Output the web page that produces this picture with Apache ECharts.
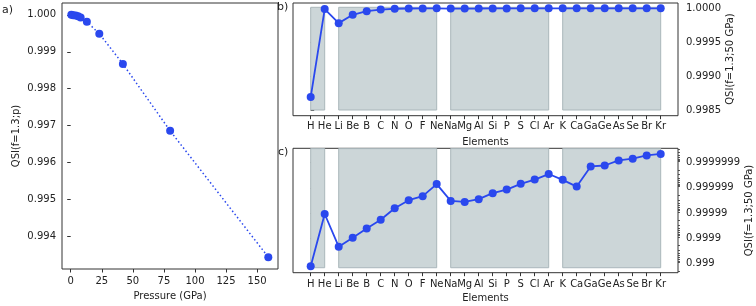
<!DOCTYPE html>
<html>
<head>
<meta charset="utf-8">
<script src="https://cdn.jsdelivr.net/npm/echarts@6/dist/echarts.min.js"></script>
<style>
html,body{margin:0;padding:0;background:#fff;}
#chart{width:756px;height:306px;}
</style>
</head>
<body>
<div id="chart"></div>
<script>
// ---- data ----
const pressureGPa = [0.5, 2, 4, 6, 8, 13, 23, 42, 80, 159];
const qsiPressure = [1.00000, 0.99999, 0.99998, 0.99996, 0.99993, 0.99981, 0.99949, 0.99867, 0.99686, 0.99344];
const pressureTicks = [0, 25, 50, 75, 100, 125, 150];
const qsiPressureTicks = [0.994, 0.995, 0.996, 0.997, 0.998, 0.999, 1.000];

const elements = ['H','He','Li','Be','B','C','N','O','F','Ne','Na','Mg','Al','Si','P','S','Cl','Ar','K','Ca','Ga','Ge','As','Se','Br','Kr'];
const qsi50 = [0.99869, 0.99998904, 0.9997812, 0.9999045, 0.9999583, 0.9999814, 0.99999354, 0.99999691, 0.99999786, 0.999999292,
               0.99999669, 0.99999637, 0.99999718, 0.99999838, 0.999998825, 0.999999308, 0.999999532, 0.999999718,
               0.999999521, 0.999999109, 0.999999859, 0.999999871, 0.9999999187, 0.9999999308, 0.9999999487, 0.9999999553];
const periodBands = [[0, 1], [2, 9], [10, 17], [18, 25]];
const linTicks = [0.9985, 0.9990, 0.9995, 1.0000];
const linTickLabels = ['0.9985', '0.9990', '0.9995', '1.0000'];
const logTicks = [1e-3, 1e-4, 1e-5, 1e-6, 1e-7];           // 1 - QSI
const logTickLabels = ['0.999', '0.9999', '0.99999', '0.999999', '0.9999999'];

// ---- styling ----
const FONT = 'DejaVu Sans';
const BLUE = '#2a48ee';
const AXC = '#333';
const TXT = '#222';
const BAND = '#ccd6d8';
const BAND_EDGE = '#aab7bb';

const logMinorTicks = [];
for (let k = 3; k <= 8; k++) {
  for (let m = 2; m <= 9; m++) logMinorTicks.push(m * Math.pow(10, -k));
}

const elementIdx = elements.map((e, i) => i);

function gridBox(left, top, width, height) {
  return { left, top, width, height, show: true, borderColor: AXC, borderWidth: 1, backgroundColor: 'transparent', containLabel: false };
}
const tickStyle = { show: true, length: 3.5, lineStyle: { color: AXC, width: 1 } };
const labelStyle = { color: TXT, fontFamily: FONT, fontSize: 10 };
const nameStyle = { color: TXT, fontFamily: FONT, fontSize: 10 };

const elementXAxis = (gridIndex, margin, gap) => ({
  type: 'value', gridIndex, min: -1.264, max: 26.236,
  splitLine: { show: false }, axisLine: { show: false },
  axisTick: Object.assign({}, tickStyle, { customValues: elementIdx }),
  axisLabel: Object.assign({}, labelStyle, { margin, customValues: elementIdx, formatter: v => elements[Math.round(v)] }),
  name: 'Elements', nameLocation: 'middle', nameGap: gap, nameTextStyle: nameStyle
});

const bandAreasLin = periodBands.map(b => [{ xAxis: b[0], yAxis: 0.9985 }, { xAxis: b[1], yAxis: 1.0000148 }]);
const bandAreasLog = periodBands.map(b => [{ xAxis: b[0], yAxis: 1.5e-3 }, { xAxis: b[1], yAxis: 2.75e-8 }]);

const option = {
  animation: false,
  backgroundColor: '#fff',
  grid: [
    gridBox(62, 3, 216, 270),
    gridBox(293, 3, 385, 112.7),
    gridBox(293, 148.3, 385, 124.4)
  ],
  xAxis: [
    {
      type: 'value', gridIndex: 0, min: -7, max: 166.8,
      splitLine: { show: false }, axisLine: { show: false },
      axisTick: Object.assign({}, tickStyle, { customValues: pressureTicks }),
      axisLabel: Object.assign({}, labelStyle, { margin: 7, customValues: pressureTicks }),
      name: 'Pressure (GPa)', nameLocation: 'middle', nameGap: 22, nameTextStyle: nameStyle
    },
    elementXAxis(1, 6, 22),
    elementXAxis(2, 7, 21)
  ],
  yAxis: [
    {
      type: 'value', gridIndex: 0, min: 0.99312, max: 1.00032,
      splitLine: { show: false }, axisLine: { show: false },
      axisTick: Object.assign({}, tickStyle, { customValues: qsiPressureTicks }),
      axisLabel: Object.assign({}, labelStyle, { margin: 6, customValues: qsiPressureTicks, formatter: v => v.toFixed(3) }),
      name: 'QSI(f=1.3;p)', nameLocation: 'middle', nameGap: 41, nameRotate: 90, nameTextStyle: nameStyle
    },
    {
      type: 'value', gridIndex: 1, position: 'right', min: 0.998416, max: 1.0000782,
      splitLine: { show: false }, axisLine: { show: false },
      axisTick: Object.assign({}, tickStyle, { customValues: linTicks }),
      axisLabel: Object.assign({}, labelStyle, { margin: 8, customValues: linTicks,
        formatter: v => { const i = linTicks.findIndex(t => Math.abs(t - v) < 1e-9); return i >= 0 ? linTickLabels[i] : ''; } })
    },
    {
      type: 'log', gridIndex: 2, position: 'right', inverse: true, min: 2.67e-8, max: 2.366e-3,
      splitLine: { show: false }, axisLine: { show: false },
      axisTick: Object.assign({}, tickStyle, { customValues: logTicks }),
      axisLabel: Object.assign({}, labelStyle, { margin: 8, customValues: logTicks,
        formatter: v => { const i = logTicks.findIndex(t => Math.abs(Math.log10(t) - Math.log10(v)) < 1e-6); return i >= 0 ? logTickLabels[i] : ''; } })
    },
    {
      type: 'log', gridIndex: 2, position: 'right', inverse: true, min: 2.67e-8, max: 2.366e-3,
      splitLine: { show: false }, axisLine: { show: false },
      axisTick: { show: true, length: 2, lineStyle: { color: AXC, width: 0.8 }, customValues: logMinorTicks },
      axisLabel: { show: false }
    }
  ],
  series: [
    {
      type: 'line', xAxisIndex: 0, yAxisIndex: 0,
      data: pressureGPa.map((p, i) => [p, qsiPressure[i]]),
      symbol: 'circle', symbolSize: 8,
      itemStyle: { color: BLUE },
      lineStyle: { color: BLUE, width: 1.5, type: [1.5, 2.5] },
      z: 3
    },
    {
      type: 'line', xAxisIndex: 1, yAxisIndex: 1,
      data: qsi50.map((q, i) => [i, q]),
      symbol: 'circle', symbolSize: 8,
      itemStyle: { color: BLUE },
      lineStyle: { color: BLUE, width: 1.8 },
      markArea: { silent: true, itemStyle: { color: BAND, borderColor: BAND_EDGE, borderWidth: 1 }, data: bandAreasLin },
      z: 3
    },
    {
      type: 'line', xAxisIndex: 2, yAxisIndex: 2,
      data: qsi50.map((q, i) => [i, 1 - q]),
      symbol: 'circle', symbolSize: 8,
      itemStyle: { color: BLUE },
      lineStyle: { color: BLUE, width: 1.8 },
      markArea: { silent: true, itemStyle: { color: BAND, borderColor: BAND_EDGE, borderWidth: 1 }, data: bandAreasLog },
      z: 3
    }
  ],
  graphic: [
    { type: 'text', left: 2, top: 5, style: { text: 'a)', fontFamily: FONT, fontSize: 11, fill: TXT } },
    { type: 'text', left: 277, top: 2, style: { text: 'b)', fontFamily: FONT, fontSize: 11, fill: TXT } },
    { type: 'text', left: 278, top: 147, style: { text: 'c)', fontFamily: FONT, fontSize: 11, fill: TXT } },
    { type: 'text', x: 730, y: 59, rotation: Math.PI / 2,
      style: { text: 'QSI(f=1.3;50 GPa)', fontFamily: FONT, fontSize: 10, fill: TXT, align: 'center', verticalAlign: 'middle' } },
    { type: 'text', x: 749, y: 210.5, rotation: Math.PI / 2,
      style: { text: 'QSI(f=1.3;50 GPa)', fontFamily: FONT, fontSize: 10, fill: TXT, align: 'center', verticalAlign: 'middle' } }
  ]
};

const chart = echarts.init(document.getElementById('chart'), null, { renderer: 'canvas' });
chart.setOption(option);
</script>
</body>
</html>
